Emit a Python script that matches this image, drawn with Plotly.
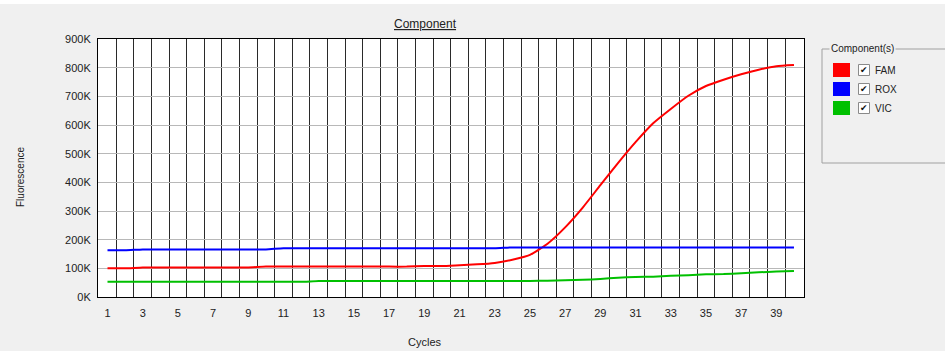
import plotly.graph_objects as go

# Amplification data per cycle (fluorescence, raw units)
cycles = list(range(1, 41))
fam = [100, 100, 103, 103, 103, 103, 103, 103, 103, 106,
       106, 106, 106, 106, 106, 106, 106, 106, 108, 108,
       111, 114, 119, 130, 147, 186, 243, 312, 390, 467,
       540, 606, 656, 702, 736, 758, 777, 793, 805, 809]
rox = [163, 163, 166, 166, 166, 166, 166, 166, 166, 166,
       170, 170, 170, 170, 170, 170, 170, 170, 170, 170,
       170, 170, 170, 173, 173, 173, 173, 173, 173, 173,
       173, 173, 173, 173, 173, 173, 173, 173, 173, 173]
vic = [53, 53, 53, 53, 53, 53, 53, 53, 53, 53,
       53, 53, 56, 56, 56, 56, 56, 56, 56, 56,
       56, 56, 56, 56, 56, 57, 58, 60, 63, 67,
       70, 71, 74, 76, 79, 80, 83, 86, 89, 91]
fam = [v * 1000 for v in fam]
rox = [v * 1000 for v in rox]
vic = [v * 1000 for v in vic]

series_names = ["FAM", "ROX", "VIC"]
series_colors = ["#ff0000", "#0000ff", "#00c000"]

x_tick_vals = list(range(1, 40, 2))
x_tick_text = [str(v) for v in x_tick_vals]
y_tick_vals = list(range(0, 900001, 100000))
y_tick_text = [f"{v // 1000}K" for v in y_tick_vals]
x_grid_vals = [c + 0.5 for c in range(1, 40)]

W, H = 945, 351
L, R, T, B = 98, 804, 39, 297
FONT = "Liberation Sans, Arial, sans-serif"
TXT = "#222222"


def px(x):
    return (x - L) / (R - L)


def py(y):
    return (B - y) / (B - T)


fig = go.Figure()
for name, vals, col in zip(series_names, [fam, rox, vic], series_colors):
    fig.add_trace(go.Scatter(
        x=cycles, y=vals, mode="lines", name=name,
        line=dict(color=col, width=2, shape="spline", smoothing=0.5),
        showlegend=False, hoverinfo="x+y+name"))

shapes = []
annotations = []

# thin white strip along the top edge
shapes.append(dict(type="rect", xref="paper", yref="paper",
                   x0=px(0), x1=px(W), y0=py(0), y1=py(4),
                   fillcolor="white", line=dict(width=0), layer="below"))

# legend group box
shapes.append(dict(type="rect", xref="paper", yref="paper",
                   x0=px(822), x1=px(960), y0=py(49), y1=py(163),
                   fillcolor="rgba(0,0,0,0)",
                   line=dict(color="#a0a0a0", width=1)))
annotations.append(dict(text="Component(s)", xref="paper", yref="paper",
                        x=px(829), y=py(49), xanchor="left", yanchor="middle",
                        showarrow=False, bgcolor="#f0f0f0", borderpad=1,
                        font=dict(family=FONT, size=10, color=TXT)))

row_tops = [63, 82, 101]
for name, col, top in zip(series_names, series_colors, row_tops):
    shapes.append(dict(type="rect", xref="paper", yref="paper",
                       x0=px(833), x1=px(850), y0=py(top), y1=py(top + 14),
                       fillcolor=col, line=dict(width=0)))
    shapes.append(dict(type="rect", xref="paper", yref="paper",
                       x0=px(858.5), x1=px(869.5), y0=py(top + 1.5),
                       y1=py(top + 12.5), fillcolor="white",
                       line=dict(color="#8a8a8a", width=1)))
    annotations.append(dict(text="✔", xref="paper", yref="paper",
                            x=px(864), y=py(top + 7), xanchor="center",
                            yanchor="middle", showarrow=False,
                            font=dict(family="DejaVu Sans", size=9,
                                      color="#111111")))
    annotations.append(dict(text=name, xref="paper", yref="paper",
                            x=px(873), y=py(top + 7), xanchor="left",
                            yanchor="middle", showarrow=False,
                            font=dict(family=FONT, size=10, color=TXT)))

# titles
annotations.append(dict(text="<u>Component</u>", xref="paper", yref="paper",
                        x=px(425), y=py(24), xanchor="center",
                        yanchor="middle", showarrow=False,
                        font=dict(family=FONT, size=12, color=TXT)))
annotations.append(dict(text="Cycles", xref="paper", yref="paper",
                        x=px(425), y=py(342), xanchor="center",
                        yanchor="middle", showarrow=False,
                        font=dict(family=FONT, size=11, color=TXT)))
annotations.append(dict(text="Fluorescence", xref="paper", yref="paper",
                        x=px(20), y=py(177), xanchor="center",
                        yanchor="middle", showarrow=False, textangle=-90,
                        font=dict(family=FONT, size=10, color=TXT)))

fig.update_layout(
    width=W, height=H,
    margin=dict(l=L, r=W - R, t=T, b=H - B, pad=0),
    paper_bgcolor="#f0f0f0", plot_bgcolor="white",
    showlegend=False,
    shapes=shapes, annotations=annotations,
    font=dict(family=FONT, size=11, color=TXT),
)
fig.update_xaxes(
    range=[0.46, 40.57], tickmode="array", tickvals=x_tick_vals,
    ticktext=x_tick_text, showgrid=False, zeroline=False,
    ticks="outside", ticklen=6, tickcolor="rgba(0,0,0,0)",
    showline=True, linecolor="#000000", linewidth=1, mirror=True,
    tickfont=dict(family=FONT, size=11, color=TXT),
    minor=dict(tickmode="array", tickvals=x_grid_vals, showgrid=True,
               gridcolor="#2a2a2a", gridwidth=1, ticks=""),
)
fig.update_yaxes(
    range=[0, 900000], tickmode="array", tickvals=y_tick_vals,
    ticktext=y_tick_text, showgrid=True, gridcolor="#b8b8b8", gridwidth=1,
    zeroline=False, ticks="outside", ticklen=4,
    tickcolor="rgba(0,0,0,0)",
    showline=True, linecolor="#000000", linewidth=1, mirror=True,
    tickfont=dict(family=FONT, size=11, color=TXT),
)

fig.write_html("out.html")
